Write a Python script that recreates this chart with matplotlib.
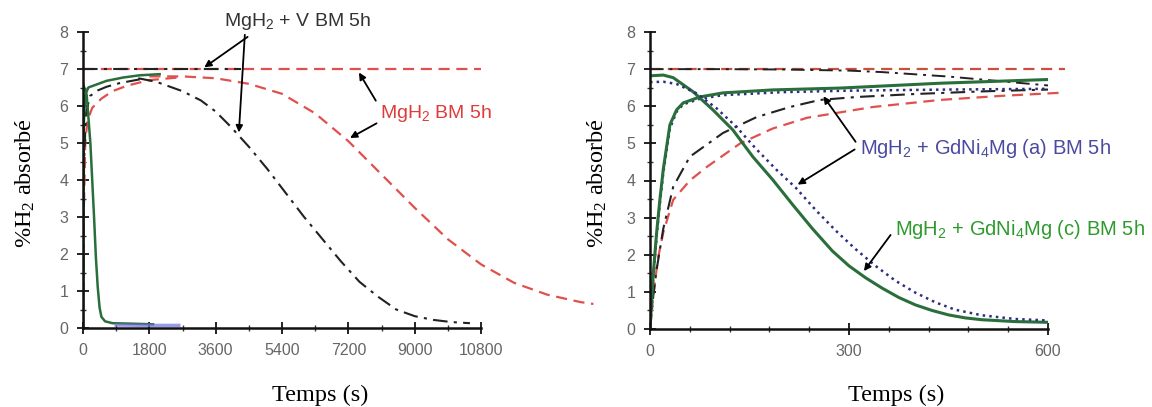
import matplotlib
matplotlib.use("Agg")
import matplotlib.pyplot as plt
import matplotlib.ticker as ticker

plt.rcParams.update({"font.family": "Liberation Sans", "font.size": 11})

# ---- panneau gauche (0 - 10800 s) ----
L_red_flat_t = [0, 10800]
L_red_flat_v = [7.0, 7.0]
L_red_abs_t = [0, 20, 60, 120, 250, 500, 800, 1200, 1800, 2700]
L_red_abs_v = [0, 3.0, 5.0, 5.6, 5.95, 6.2, 6.4, 6.55, 6.7, 6.78]
L_red_des_t = [1800, 2700, 3600, 4500, 5400, 6300, 7200, 8100, 9000, 9900,
               10800, 11700, 12600, 13500, 13850]
L_red_des_v = [6.8, 6.8, 6.75, 6.6, 6.33, 5.8, 5.05, 4.15, 3.25, 2.4,
               1.72, 1.22, 0.9, 0.7, 0.65]
L_blk_flat_t = [0, 4300]
L_blk_flat_v = [7.0, 7.0]
L_blk_abs_t = [0, 30, 80, 190, 400, 640, 1000, 1540]
L_blk_abs_v = [0, 4.5, 5.8, 6.27, 6.42, 6.52, 6.62, 6.72]
L_blk_des_t = [1500, 2000, 2700, 3200, 3600, 4000, 4500, 5000, 5500, 6000,
               6500, 7000, 7500, 8000, 8500, 9000, 9500, 10000, 10500]
L_blk_des_v = [6.75, 6.65, 6.4, 6.15, 5.85, 5.45, 4.9, 4.3, 3.65, 3.0,
               2.4, 1.8, 1.25, 0.85, 0.5, 0.32, 0.22, 0.16, 0.13]
L_grn_abs_t = [0, 20, 60, 145, 640, 1090, 1540, 2080]
L_grn_abs_v = [0, 5.5, 6.3, 6.5, 6.68, 6.77, 6.83, 6.86]
L_grn_des_t = [0, 100, 200, 300, 350, 400, 450, 500, 600, 800, 1200, 1900]
L_grn_des_v = [6.6, 6.3, 5.0, 3.0, 1.9, 1.1, 0.55, 0.3, 0.18, 0.13, 0.12, 0.1]
L_blu_t = [900, 1800, 2600]
L_blu_v = [0.08, 0.07, 0.07]

# ---- panneau droit (0 - 600 s) ----
R_red_flat_t = [0, 626]
R_red_flat_v = [7.0, 7.0]
R_red_abs_t = [0, 5, 12, 20, 35, 60, 86, 136, 185, 237, 336, 437, 530, 626]
R_red_abs_v = [0, 0.9, 1.9, 2.6, 3.48, 4.0, 4.37, 5.0, 5.4, 5.69, 5.98, 6.17, 6.28, 6.37]
R_blk_abs_t = [0, 5, 10, 20, 35, 60, 110, 161, 211, 256, 312, 400, 500, 600]
R_blk_abs_v = [0, 0.9, 1.6, 2.7, 3.83, 4.64, 5.28, 5.71, 5.98, 6.17, 6.25, 6.33, 6.4, 6.45]
R_blk_top_t = [0, 100, 200, 300, 350, 400, 450, 500, 550, 600]
R_blk_top_v = [7.0, 7.0, 6.99, 6.96, 6.92, 6.86, 6.8, 6.72, 6.64, 6.56]
R_grn_abs_t = [0, 5, 10, 15, 20, 30, 40, 50, 75, 110, 185, 287, 437, 600]
R_grn_abs_v = [0, 1.5, 2.6, 3.5, 4.3, 5.5, 5.9, 6.09, 6.25, 6.36, 6.44, 6.49, 6.62, 6.72]
R_blu_abs_t = [0, 5, 10, 15, 20, 30, 40, 50, 75, 110, 200, 300, 450, 600]
R_blu_abs_v = [0, 1.4, 2.5, 3.4, 4.2, 5.4, 5.85, 6.05, 6.2, 6.3, 6.38, 6.42, 6.45, 6.47]
R_grn_des_t = [0, 20, 35, 65, 95, 125, 155, 185, 215, 245, 275, 300, 325, 350,
               375, 400, 425, 450, 475, 500, 550, 600]
R_grn_des_v = [6.82, 6.84, 6.77, 6.39, 5.9, 5.36, 4.64, 4.02, 3.35, 2.7, 2.1, 1.7,
               1.38, 1.1, 0.85, 0.65, 0.5, 0.38, 0.3, 0.25, 0.2, 0.18]
R_blu_des_t = [0, 20, 40, 70, 100, 130, 160, 190, 220, 250, 280, 310, 340, 370,
               400, 430, 460, 500, 550, 600]
R_blu_des_v = [6.65, 6.66, 6.6, 6.35, 5.95, 5.45, 4.85, 4.3, 3.8, 3.2, 2.65, 2.15,
               1.7, 1.3, 0.98, 0.72, 0.52, 0.37, 0.27, 0.23]

RED = "#e0504c"
BLK = "#222222"
GRN = "#2a6e3c"
BLU = "#2c2c80"
TICKC = "#666666"

fig = plt.figure(figsize=(11.52, 4.07), dpi=100)
ax1 = fig.add_axes([83 / 1152, 1 - 328 / 407, 398 / 1152, 296 / 407])
ax2 = fig.add_axes([650 / 1152, 1 - 329 / 407, 398 / 1152, 297 / 407])

dash = (0, (5, 3))
dashdot = (0, (7, 3, 1.5, 3))

# gauche
ax1.plot(L_red_flat_t, L_red_flat_v, color=RED, lw=1.6, ls=dash)
ax1.plot(L_red_abs_t, L_red_abs_v, color=RED, lw=1.6, ls=dash)
ax1.plot(L_red_des_t, L_red_des_v, color=RED, lw=1.6, ls=dash, clip_on=False)
ax1.plot(L_blk_flat_t, L_blk_flat_v, color=BLK, lw=1.5, ls=dashdot)
ax1.plot(L_blk_abs_t, L_blk_abs_v, color=BLK, lw=1.5, ls=dashdot)
ax1.plot(L_blk_des_t, L_blk_des_v, color=BLK, lw=1.5, ls=dashdot)
ax1.plot(L_grn_abs_t, L_grn_abs_v, color=GRN, lw=1.8)
ax1.plot(L_grn_des_t, L_grn_des_v, color=GRN, lw=1.8)
ax1.plot(L_blu_t, L_blu_v, color="#7070e0", lw=2.5, alpha=0.7)

# droite
ax2.plot(R_red_flat_t, R_red_flat_v, color="#c8503c", lw=1.6, ls=dash, clip_on=False)
ax2.plot(R_red_abs_t, R_red_abs_v, color=RED, lw=1.6, ls=dash, clip_on=False)
ax2.plot(R_blk_top_t, R_blk_top_v, color=BLK, lw=1.4, ls=dashdot)
ax2.plot(R_blk_abs_t, R_blk_abs_v, color=BLK, lw=1.5, ls=dashdot)
ax2.plot(R_blu_abs_t, R_blu_abs_v, color=BLU, lw=1.8, ls=":")
ax2.plot(R_grn_abs_t, R_grn_abs_v, color=GRN, lw=2.2)
ax2.plot(R_grn_des_t, R_grn_des_v, color=GRN, lw=2.2)
ax2.plot(R_blu_des_t, R_blu_des_v, color=BLU, lw=1.8, ls=":")

for ax, xmax, xmaj, xmin in [(ax1, 10800, 1800, 900), (ax2, 600, 300, 60)]:
    ax.set_xlim(0, xmax)
    ax.set_ylim(0, 8)
    ax.set_facecolor("none")
    for s in ["top", "right"]:
        ax.spines[s].set_visible(False)
    for s in ["left", "bottom"]:
        ax.spines[s].set_linewidth(1.8)
        ax.spines[s].set_color("#111111")
    ax.xaxis.set_major_locator(ticker.MultipleLocator(xmaj))
    ax.xaxis.set_minor_locator(ticker.MultipleLocator(xmin))
    ax.yaxis.set_major_locator(ticker.MultipleLocator(1))
    ax.yaxis.set_minor_locator(ticker.MultipleLocator(0.5))
    ax.tick_params(which="major", direction="inout", length=9, width=1.3,
                   color="#111111", labelcolor=TICKC, labelsize=11.5, pad=6)
    ax.tick_params(which="minor", direction="inout", length=4, width=1.0,
                   color="#333333")

# titres d'axes
for xc in [25, 597]:
    fig.text(xc / 1152, 1 - 183 / 407, "%H$\\mathregular{_2}$ absorbé",
             rotation=90, ha="center", va="center",
             family="Liberation Serif", fontsize=17.5)
for xc in [320, 896]:
    fig.text(xc / 1152, 1 - 395 / 407, "Temps (s)", ha="center", va="center",
             family="Liberation Serif", fontsize=17.5)

# annotations gauche
arw = dict(arrowstyle="-|>", color="black", lw=1.3, mutation_scale=10)
ax1.annotate("MgH$\\mathregular{_2}$ + V BM 5h", xy=(3230, 7.0),
             xytext=(298 / 1152, 1 - 22 / 407), textcoords="figure fraction",
             ha="center", va="center", fontsize=14, color="#333333",
             arrowprops=dict(arw, relpos=(0.2, 0.0)), annotation_clip=False)
ax1.annotate("", xy=(4225, 5.21), xytext=(245 / 1152, 1 - 32 / 407),
             textcoords="figure fraction",
             arrowprops=arw, annotation_clip=False)
ax1.annotate("MgH$\\mathregular{_2}$ BM 5h", xy=(7450, 6.97),
             xytext=(436 / 1152, 1 - 114 / 407), textcoords="figure fraction",
             ha="center", va="center", fontsize=14, color="#e03a3a",
             arrowprops=dict(arw, relpos=(0.0, 0.8)), annotation_clip=False)
ax1.annotate("", xy=(7180, 5.1), xytext=(379 / 1152, 1 - 122 / 407),
             textcoords="figure fraction",
             arrowprops=arw, annotation_clip=False)

# annotations droite
ax2.annotate("MgH$\\mathregular{_2}$ + GdNi$\\mathregular{_4}$Mg (a) BM 5h",
             xy=(259, 6.33), xytext=(860 / 1152, 1 - 148 / 407),
             textcoords="figure fraction", ha="left", va="center",
             fontsize=14.5, color="#4a4aa0",
             arrowprops=dict(arw, relpos=(0.0, 0.5)), annotation_clip=False)
ax2.annotate("", xy=(219, 3.85), xytext=(857 / 1152, 1 - 148 / 407),
             textcoords="figure fraction",
             arrowprops=arw, annotation_clip=False)
ax2.annotate("MgH$\\mathregular{_2}$ + GdNi$\\mathregular{_4}$Mg (c) BM 5h",
             xy=(320, 1.5), xytext=(895 / 1152, 1 - 229 / 407),
             textcoords="figure fraction", ha="left", va="center",
             fontsize=14.5, color="#2e9a2e",
             arrowprops=dict(arw, relpos=(0.0, 0.5)), annotation_clip=False)

fig.savefig("out.png", dpi=100)
